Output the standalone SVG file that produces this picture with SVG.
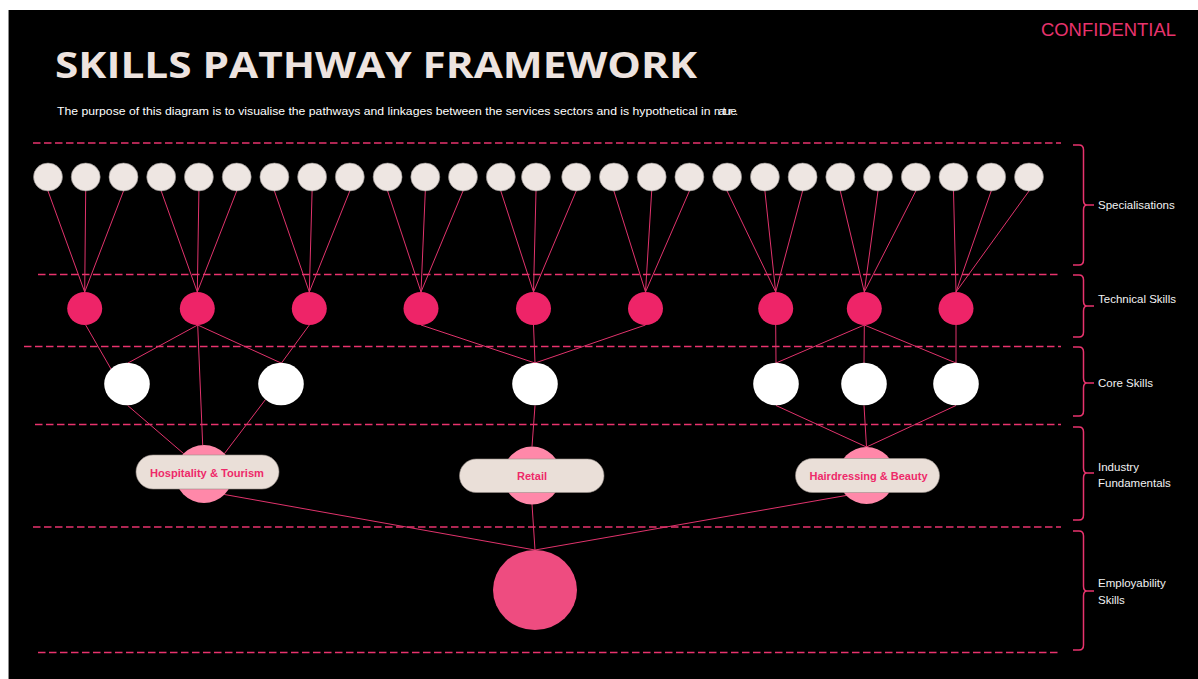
<svg xmlns="http://www.w3.org/2000/svg" width="1198" height="679" viewBox="0 0 1198 679">
  <style>
    .spec { fill: #EEE6E2; stroke: #8a8583; stroke-width: 0.6; }
    .tech { fill: #EE2468; }
    .core { fill: #FFFFFF; }
    .ind { fill: #FF88A9; }
    .pill { fill: #EADFD8; stroke: #9a918c; stroke-width: 0.6; }
    .pilltext { font-family: "Liberation Sans", Arial, sans-serif; font-weight: bold; font-size: 10.5px; fill: #EE2A6A; text-anchor: middle; }
    .emp { fill: #EE4C80; }
    .conn line { stroke: #E0336C; stroke-width: 1; }
    .divider { stroke: #E8336D; stroke-width: 1.5; stroke-dasharray: 7.5 3.5; fill: none; }
    .brace { stroke: #E8336D; stroke-width: 1.5; fill: none; }
    .lbl { font-family: "Liberation Sans", Arial, sans-serif; font-size: 11.5px; fill: #F2F2F2; }
  </style>

  <!-- page -->
  <rect x="0" y="0" width="1198" height="679" fill="#FFFFFF"/>
  <rect x="8" y="10" width="1190" height="669" fill="#000000"/>
  <line x1="8.5" y1="10" x2="8.5" y2="679" stroke="#8c8c8c" stroke-width="1"/>

  <!-- header -->
  <text x="1041" y="36" font-family="Liberation Sans, Arial, sans-serif" font-size="18.5" fill="#E8336D" textLength="135" lengthAdjust="spacingAndGlyphs">CONFIDENTIAL</text>
  <text x="55" y="78" font-family="'Open Sans', 'Liberation Sans', sans-serif" font-weight="bold" font-size="35" fill="#EDE3DF" textLength="642" lengthAdjust="spacingAndGlyphs">SKILLS PATHWAY FRAMEWORK</text>
  <text x="57" y="114.5" font-family="'Liberation Sans', Arial, sans-serif" font-size="10.8" fill="#FFFFFF"><tspan textLength="657" lengthAdjust="spacingAndGlyphs">The purpose of this diagram is to visualise the pathways and linkages between the services sectors and is hypothetical in </tspan><tspan textLength="24" lengthAdjust="spacing">nature.</tspan></text>

  <!-- layer dividers -->
  <g id="dividers">
    <line class="divider" x1="33" y1="143" x2="1061" y2="143"/>
    <line class="divider" x1="38" y1="274.5" x2="1061" y2="274.5"/>
    <line class="divider" x1="24" y1="346.5" x2="1061" y2="346.5"/>
    <line class="divider" x1="35" y1="424.5" x2="1061" y2="424.5"/>
    <line class="divider" x1="33" y1="527" x2="1061" y2="527"/>
    <line class="divider" x1="38" y1="652.5" x2="1061" y2="652.5"/>
  </g>

  <!-- connectors -->
  <g id="connectors" class="conn">
    <!-- specialisations to technical skills -->
    <line x1="48" y1="191" x2="84.7" y2="292"/>
    <line x1="85.7" y1="191" x2="84.7" y2="292"/>
    <line x1="123.5" y1="191" x2="84.7" y2="292"/>
    <line x1="161.2" y1="191" x2="197.3" y2="292"/>
    <line x1="198.9" y1="191" x2="197.3" y2="292"/>
    <line x1="236.7" y1="191" x2="197.3" y2="292"/>
    <line x1="274.4" y1="191" x2="309.3" y2="292"/>
    <line x1="312.1" y1="191" x2="309.3" y2="292"/>
    <line x1="349.8" y1="191" x2="309.3" y2="292"/>
    <line x1="387.6" y1="191" x2="421" y2="292"/>
    <line x1="425.3" y1="191" x2="421" y2="292"/>
    <line x1="463" y1="191" x2="421" y2="292"/>
    <line x1="500.8" y1="191" x2="533.5" y2="292"/>
    <line x1="536" y1="191" x2="533.5" y2="292"/>
    <line x1="576.2" y1="191" x2="533.5" y2="292"/>
    <line x1="613.9" y1="191" x2="645.5" y2="292"/>
    <line x1="651.7" y1="191" x2="645.5" y2="292"/>
    <line x1="689.4" y1="191" x2="645.5" y2="292"/>
    <line x1="727.1" y1="191" x2="775.7" y2="292"/>
    <line x1="764.9" y1="191" x2="775.7" y2="292"/>
    <line x1="802.6" y1="191" x2="775.7" y2="292"/>
    <line x1="840.3" y1="191" x2="864.3" y2="292"/>
    <line x1="878" y1="191" x2="864.3" y2="292"/>
    <line x1="915.8" y1="191" x2="864.3" y2="292"/>
    <line x1="953.5" y1="191" x2="956" y2="292"/>
    <line x1="991.2" y1="191" x2="956" y2="292"/>
    <line x1="1029" y1="191" x2="956" y2="292"/>

    <!-- technical skills to core skills -->
    <line x1="85.7" y1="325" x2="111" y2="369"/>
    <line x1="197.7" y1="325" x2="128" y2="363"/>
    <line x1="197.7" y1="325" x2="281" y2="363"/>
    <line x1="309.3" y1="325" x2="281.5" y2="363"/>
    <line x1="421" y1="325" x2="535" y2="363"/>
    <line x1="533.5" y1="325" x2="535" y2="363"/>
    <line x1="645.5" y1="325" x2="535" y2="363"/>
    <line x1="775.7" y1="325" x2="776" y2="363"/>
    <line x1="864.3" y1="325" x2="776" y2="363"/>
    <line x1="864.3" y1="325" x2="864" y2="363"/>
    <line x1="864.3" y1="325" x2="956" y2="363"/>
    <line x1="956" y1="325" x2="956" y2="363"/>

    <!-- technical / core skills to industry fundamentals -->
    <line x1="197.7" y1="325" x2="202.7" y2="445"/>
    <line x1="127.7" y1="405.5" x2="183.5" y2="453.5"/>
    <line x1="265.5" y1="399.5" x2="224.5" y2="453.5"/>
    <line x1="535" y1="405.5" x2="532" y2="446.5"/>
    <line x1="776" y1="405.5" x2="866.5" y2="447"/>
    <line x1="864" y1="405.5" x2="866.5" y2="447"/>
    <line x1="956" y1="405.5" x2="866.5" y2="447"/>

    <!-- industry fundamentals to employability skills -->
    <line x1="224.5" y1="494.5" x2="535" y2="550"/>
    <line x1="532" y1="504" x2="535" y2="550"/>
    <line x1="846" y1="495.5" x2="535" y2="550"/>
  </g>

  <!-- specialisations -->
  <g id="specialisations">
    <ellipse class="spec" cx="48" cy="177" rx="14.5" ry="14"/>
    <ellipse class="spec" cx="85.7" cy="177" rx="14.5" ry="14"/>
    <ellipse class="spec" cx="123.5" cy="177" rx="14.5" ry="14"/>
    <ellipse class="spec" cx="161.2" cy="177" rx="14.5" ry="14"/>
    <ellipse class="spec" cx="198.9" cy="177" rx="14.5" ry="14"/>
    <ellipse class="spec" cx="236.7" cy="177" rx="14.5" ry="14"/>
    <ellipse class="spec" cx="274.4" cy="177" rx="14.5" ry="14"/>
    <ellipse class="spec" cx="312.1" cy="177" rx="14.5" ry="14"/>
    <ellipse class="spec" cx="349.8" cy="177" rx="14.5" ry="14"/>
    <ellipse class="spec" cx="387.6" cy="177" rx="14.5" ry="14"/>
    <ellipse class="spec" cx="425.3" cy="177" rx="14.5" ry="14"/>
    <ellipse class="spec" cx="463" cy="177" rx="14.5" ry="14"/>
    <ellipse class="spec" cx="500.8" cy="177" rx="14.5" ry="14"/>
    <ellipse class="spec" cx="536" cy="177" rx="14.5" ry="14"/>
    <ellipse class="spec" cx="576.2" cy="177" rx="14.5" ry="14"/>
    <ellipse class="spec" cx="613.9" cy="177" rx="14.5" ry="14"/>
    <ellipse class="spec" cx="651.7" cy="177" rx="14.5" ry="14"/>
    <ellipse class="spec" cx="689.4" cy="177" rx="14.5" ry="14"/>
    <ellipse class="spec" cx="727.1" cy="177" rx="14.5" ry="14"/>
    <ellipse class="spec" cx="764.9" cy="177" rx="14.5" ry="14"/>
    <ellipse class="spec" cx="802.6" cy="177" rx="14.5" ry="14"/>
    <ellipse class="spec" cx="840.3" cy="177" rx="14.5" ry="14"/>
    <ellipse class="spec" cx="878" cy="177" rx="14.5" ry="14"/>
    <ellipse class="spec" cx="915.8" cy="177" rx="14.5" ry="14"/>
    <ellipse class="spec" cx="953.5" cy="177" rx="14.5" ry="14"/>
    <ellipse class="spec" cx="991.2" cy="177" rx="14.5" ry="14"/>
    <ellipse class="spec" cx="1029" cy="177" rx="14.5" ry="14"/>
  </g>

  <!-- technical skills -->
  <g id="technical-skills">
    <ellipse class="tech" cx="84.7" cy="308.5" rx="17.5" ry="16.5"/>
    <ellipse class="tech" cx="197.3" cy="308.5" rx="17.5" ry="16.5"/>
    <ellipse class="tech" cx="309.3" cy="308.5" rx="17.5" ry="16.5"/>
    <ellipse class="tech" cx="421" cy="308.5" rx="17.5" ry="16.5"/>
    <ellipse class="tech" cx="533.5" cy="308.5" rx="17.5" ry="16.5"/>
    <ellipse class="tech" cx="645.5" cy="308.5" rx="17.5" ry="16.5"/>
    <ellipse class="tech" cx="775.7" cy="308.5" rx="17.5" ry="16.5"/>
    <ellipse class="tech" cx="864.3" cy="308.5" rx="17.5" ry="16.5"/>
    <ellipse class="tech" cx="956" cy="308.5" rx="17.5" ry="16.5"/>
  </g>

  <!-- core skills -->
  <g id="core-skills">
    <ellipse class="core" cx="127" cy="384" rx="22.8" ry="21.3"/>
    <ellipse class="core" cx="281" cy="384" rx="22.8" ry="21.3"/>
    <ellipse class="core" cx="535" cy="384" rx="22.8" ry="21.3"/>
    <ellipse class="core" cx="776" cy="384" rx="22.8" ry="21.3"/>
    <ellipse class="core" cx="864" cy="384" rx="22.8" ry="21.3"/>
    <ellipse class="core" cx="956" cy="384" rx="22.8" ry="21.3"/>
  </g>

  <!-- industry fundamentals -->
  <g id="hospitality-tourism">
    <circle class="ind" cx="204" cy="474" r="29"/>
    <rect class="pill" x="136" y="455" width="143" height="34" rx="17"/>
    <text class="pilltext" x="207" y="476.5" textLength="114" lengthAdjust="spacingAndGlyphs">Hospitality &amp; Tourism</text>
  </g>
  <g id="retail">
    <circle class="ind" cx="532" cy="475.5" r="29"/>
    <rect class="pill" x="459.5" y="459" width="144.5" height="33.5" rx="16.7"/>
    <text class="pilltext" x="532" y="480" textLength="30" lengthAdjust="spacingAndGlyphs">Retail</text>
  </g>
  <g id="hairdressing-beauty">
    <circle class="ind" cx="866.5" cy="475.5" r="28.5"/>
    <rect class="pill" x="795.5" y="458.5" width="144" height="34" rx="17"/>
    <text class="pilltext" x="868.5" y="480" textLength="118" lengthAdjust="spacingAndGlyphs">Hairdressing &amp; Beauty</text>
  </g>

  <!-- employability skills -->
  <g id="employability">
    <ellipse class="emp" cx="535" cy="590" rx="42" ry="40"/>
  </g>

  <!-- layer braces and labels -->
  <g id="layer-specialisations">
    <path class="brace" d="M1073,145 L1079,145 Q1083.5,145 1083.5,150 L1083.5,200 Q1083.5,205 1087,205 L1094,205 M1087,205 Q1083.5,205 1083.5,210 L1083.5,260 Q1083.5,265 1079,265 L1073,265"/>
    <text class="lbl" x="1098" y="209">Specialisations</text>
  </g>
  <g id="layer-technical">
    <path class="brace" d="M1073,275 L1079,275 Q1083.5,275 1083.5,280 L1083.5,301 Q1083.5,306 1087,306 L1094,306 M1087,306 Q1083.5,306 1083.5,311 L1083.5,332 Q1083.5,337 1079,337 L1073,337"/>
    <text class="lbl" x="1098" y="303">Technical Skills</text>
  </g>
  <g id="layer-core">
    <path class="brace" d="M1073,347 L1079,347 Q1083.5,347 1083.5,352 L1083.5,378 Q1083.5,383 1087,383 L1094,383 M1087,383 Q1083.5,383 1083.5,388 L1083.5,411 Q1083.5,416 1079,416 L1073,416"/>
    <text class="lbl" x="1098" y="386.5">Core Skills</text>
  </g>
  <g id="layer-industry">
    <path class="brace" d="M1073,427 L1079,427 Q1083.5,427 1083.5,432 L1083.5,468 Q1083.5,473 1087,473 L1094,473 M1087,473 Q1083.5,473 1083.5,478 L1083.5,515 Q1083.5,520 1079,520 L1073,520"/>
    <text class="lbl" x="1098" y="470.5">Industry</text>
    <text class="lbl" x="1098" y="486.5">Fundamentals</text>
  </g>
  <g id="layer-employability">
    <path class="brace" d="M1073,531 L1079,531 Q1083.5,531 1083.5,536 L1083.5,586 Q1083.5,591 1087,591 L1094,591 M1087,591 Q1083.5,591 1083.5,596 L1083.5,645 Q1083.5,650 1079,650 L1073,650"/>
    <text class="lbl" x="1098" y="587">Employability</text>
    <text class="lbl" x="1098" y="604">Skills</text>
  </g>
</svg>
